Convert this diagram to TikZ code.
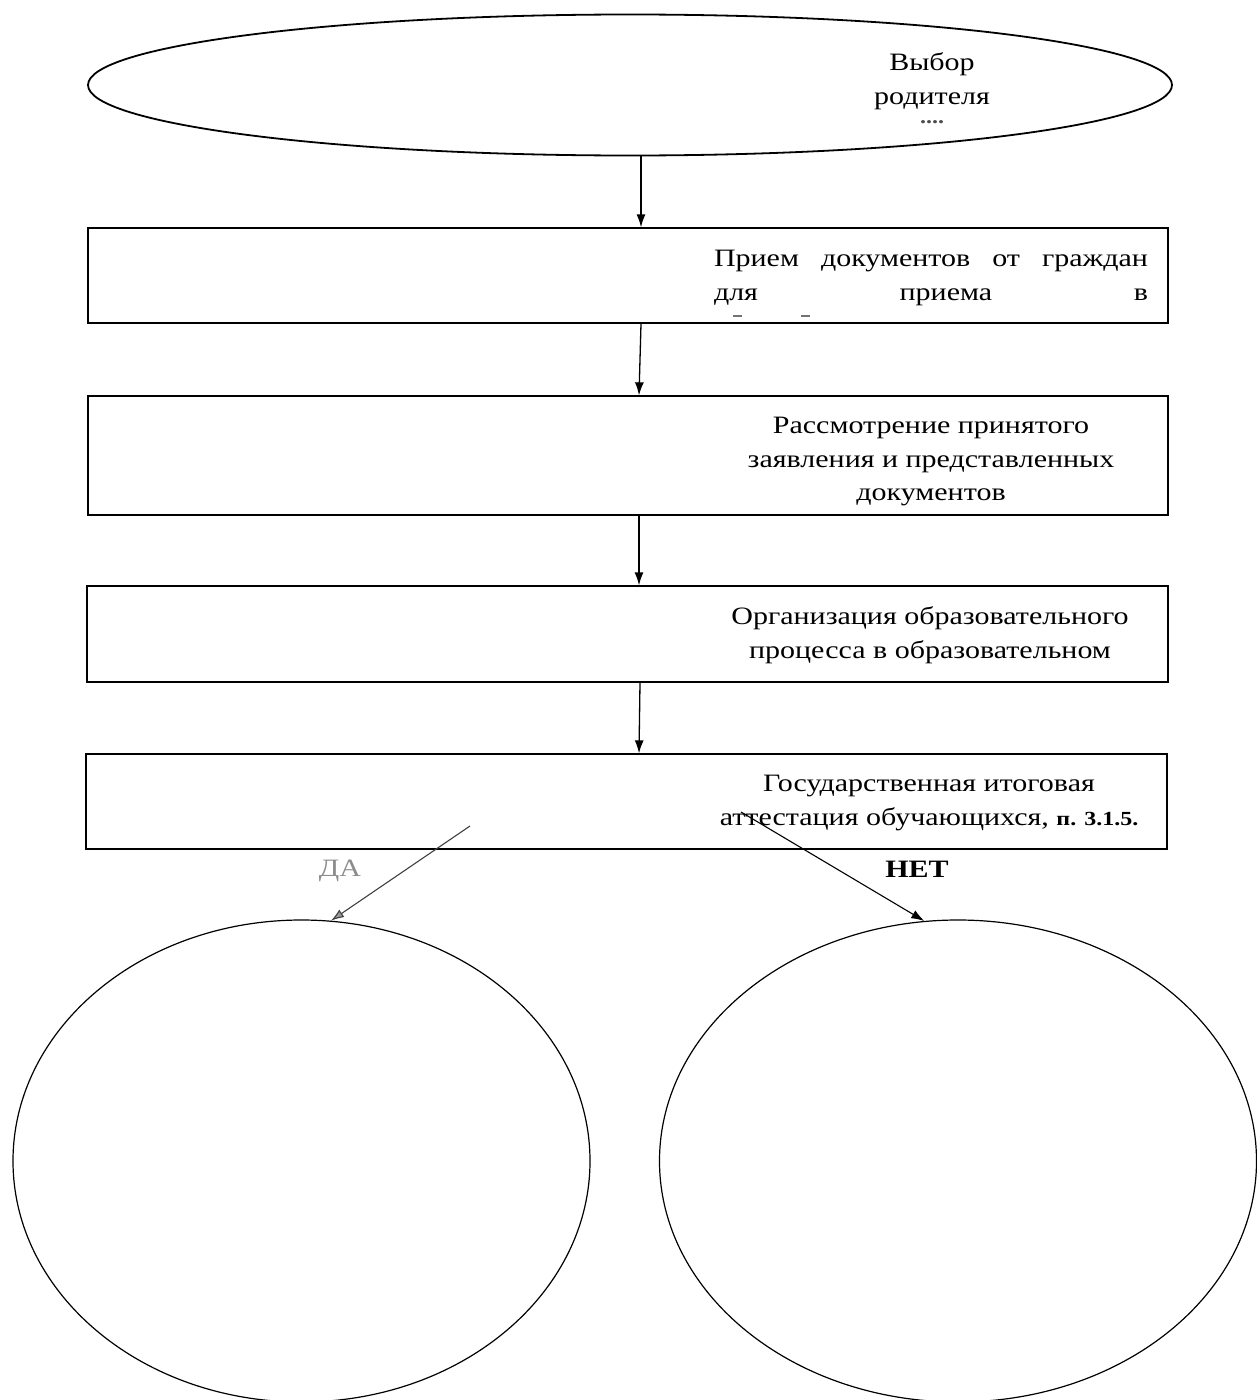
\documentclass[tikz,border=0pt]{standalone}
\usepackage{fontspec}
\setmainfont[FakeStretch=1.2]{Liberation Serif}
\usetikzlibrary{arrows.meta,shapes.geometric,calc}
\begin{document}
\begin{tikzpicture}[x=1pt,y=-1pt,
  box/.style={draw,line width=1.3pt,rectangle,inner sep=0pt},
  oval/.style={draw,line width=1.2pt,ellipse,inner sep=0pt},
  arr/.style={line width=1.3pt,-{Latex[length=13pt,width=9pt]}},
  txt/.style={inner sep=0pt,align=center,font=\fontsize{25}{33.5}\selectfont},
  lbl/.style={inner sep=0pt,font=\fontsize{25}{30}\selectfont},
  tick/.style={line width=1.6pt,black!55}]
\useasboundingbox (0,0) rectangle (1257,1400);
\fill[white] (0,0) rectangle (1257,1400);
% top ellipse
\node[oval,line width=1.8pt,minimum width=1084pt,minimum height=141pt] (e0) at (630,85) {};
\node[txt] (t0) at (932,81) {Выбор\\родителя};
\node[inner sep=0pt,font=\fontsize{20}{20}\selectfont\bfseries,text=black!70] (t0b) at (932,122) {....};
% boxes
\node[box,minimum width=1080pt,minimum height=95pt] (b1) at (628,275.5) {};
\node[txt,align=justify,text width=434pt] (t1) at (931,278) {Прием\hfill документов\hfill от\hfill граждан\\\hbox to 434pt{для\hfill приема\hfill в}};
\draw[tick] (733,316) -- (742,316);
\draw[tick] (801,316) -- (810,316);
\node[box,minimum width=1080pt,minimum height=119pt] (b2) at (628,455.5) {};
\node[txt] (t2) at (931,462) {Рассмотрение принятого\\заявления и представленных\\документов};
\node[box,minimum width=1081pt,minimum height=96pt] (b3) at (627.5,634) {};
\node[txt] (t3) at (930,635) {Организация образовательного\\процесса в образовательном};
\node[box,minimum width=1081pt,minimum height=95pt] (b4) at (626.5,801.5) {};
\node[txt] (t4) at (929,803) {Государственная итоговая\\аттестация обучающихся, {\fontsize{20}{20}\selectfont\bfseries п. 3.1.5.}};
% circles
\node[oval,minimum width=577pt,minimum height=482pt] (c1) at (301.5,1161) {};
\node[oval,minimum width=597pt,minimum height=482pt] (c2) at (958,1161) {};
% connectors
\draw[arr] ([xshift=11pt]e0.south) -- ([xshift=13pt]b1.north);
\draw[arr] ([xshift=13pt]b1.south) -- ([xshift=11pt]b2.north);
\draw[arr] ([xshift=11pt]b2.south) -- ([xshift=11.5pt]b3.north);
\draw[arr] ([xshift=12.5pt]b3.south) -- ([xshift=12.5pt]b4.north);
\coordinate (da0) at (470,826);
\coordinate (net0) at (741,812);
\draw[line width=1.1pt,black!75,-{Latex[length=13pt,width=9pt,fill=black!40]}] (da0) -- (c1.83);
\draw[arr,line width=1.1pt] (net0) -- (c2.98);
\node[lbl,text=black!45] (lda) at (340,871) {ДА};
\node[lbl,font=\fontsize{25}{30}\selectfont\bfseries] (lnet) at (917,869) {НЕТ};
\end{tikzpicture}
\end{document}
